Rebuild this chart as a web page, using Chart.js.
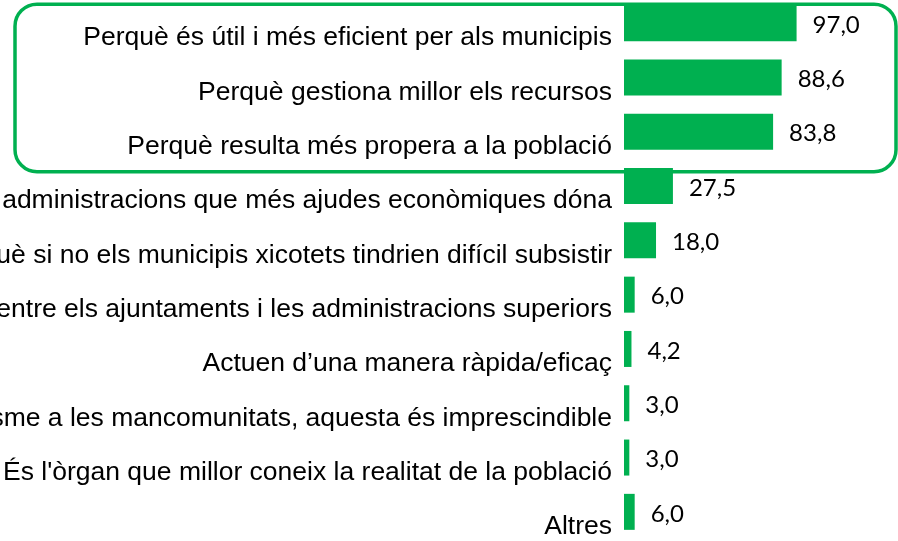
<!DOCTYPE html>
<html>
<head>
<meta charset="utf-8">
<script src="https://cdn.jsdelivr.net/npm/chart.js@4.4.1/dist/chart.umd.min.js"></script>
<style>
    html, body { margin: 0; padding: 0; background: #fff; overflow: hidden; }
    #wrap { position: relative; width: 898px; height: 541px; overflow: hidden; }
    #chart { position: absolute; left: 0; top: -4px; }
</style>
</head>
<body>
<div id="wrap"><canvas id="chart" width="898" height="543"></canvas></div>
<script>
// Motius (valors en %)
const categories = [
    'Perquè és útil i més eficient per als municipis',
    'Perquè gestiona millor els recursos',
    'Perquè resulta més propera a la població',
    'És una de les administracions que més ajudes econòmiques dóna',
    'Perquè si no els municipis xicotets tindrien difícil subsistir',
    'Fa d\u2019intermediària entre els ajuntaments i les administracions superiors',
    'Actuen d\u2019una manera ràpida/eficaç',
    'Pel que fa a l\u2019associacionisme a les mancomunitats, aquesta és imprescindible',
    'És l\'òrgan que millor coneix la realitat de la població',
    'Altres'
];
const values = [97.0, 88.6, 83.8, 27.5, 18.0, 6.0, 4.2, 3.0, 3.0, 6.0];
const highlighted = [0, 1, 2];

const green = '#00B050';

// value labels next to each bar
const valueLabels = {
    id: 'valueLabels',
    afterDatasetsDraw(chart) {
        const ctx = chart.ctx;
        const meta = chart.getDatasetMeta(0);
        ctx.save();
        ctx.font = '24px Lato';
        ctx.fillStyle = '#000';
        ctx.textAlign = 'left';
        ctx.textBaseline = 'middle';
        meta.data.forEach((bar, i) => {
            const txt = values[i].toFixed(1).replace('.', ',');
            ctx.fillText(txt, bar.x + 16, bar.y + 2);
        });
        ctx.restore();
    }
};

// rounded box around the first rows
const highlightBox = {
    id: 'highlightBox',
    afterDraw(chart) {
        const ctx = chart.ctx;
        const y = chart.scales.y;
        const top = y.getPixelForValue(highlighted[0]) - 19;
        const bottom = y.getPixelForValue(highlighted[highlighted.length - 1]) + 40;
        const left = 15;
        const right = chart.chartArea.right - 2;
        ctx.save();
        ctx.strokeStyle = green;
        ctx.lineWidth = 3.5;
        ctx.beginPath();
        ctx.roundRect(left, top, right - left, bottom - top, 22);
        ctx.stroke();
        ctx.restore();
    }
};

new Chart(document.getElementById('chart'), {
    type: 'bar',
    data: {
        labels: categories,
        datasets: [{
            data: values,
            backgroundColor: green,
            borderWidth: 0,
            barPercentage: 0.663,
            categoryPercentage: 1
        }]
    },
    options: {
        indexAxis: 'y',
        responsive: false,
        animation: false,
        layout: { padding: 0 },
        plugins: {
            legend: { display: false },
            tooltip: { enabled: false }
        },
        scales: {
            x: {
                display: false,
                min: 0,
                max: 154
            },
            y: {
                grid: { display: false, drawTicks: false },
                border: { display: false },
                ticks: {
                    color: '#000',
                    font: { family: 'Liberation Sans', size: 26.5 },
                    padding: 12,
                    labelOffset: 15,
                    autoSkip: false
                },
                afterFit(scale) {
                    scale.width = 624;
                    scale.paddingTop = 0;
                    scale.paddingBottom = 0;
                }
            }
        }
    },
    plugins: [valueLabels, highlightBox]
});
</script>
</body>
</html>
